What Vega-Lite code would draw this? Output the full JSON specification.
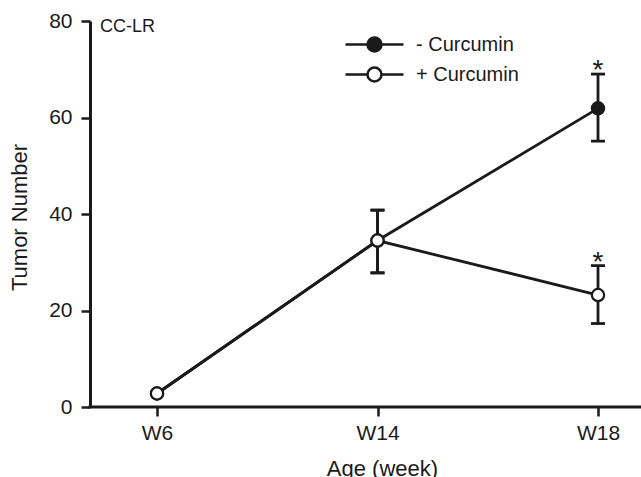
{
  "$schema": "https://vega.github.io/schema/vega-lite/v6.json",
  "width": 551,
  "height": 386,
  "autosize": {"type": "none"},
  "padding": {"left": 90, "top": 21, "right": 0, "bottom": 70},
  "background": "white",
  "title": {"text": "CC-LR", "anchor": "start", "frame": "group", "offset": -26, "dx": 10, "fontSize": 18, "fontWeight": "normal", "font": "Liberation Sans", "color": "#1a1a1a"},
  "data": {"values": [
    {"week": "W6", "group": "- Curcumin", "value": 2.8, "lower": null, "upper": null, "sig": ""},
    {"week": "W14", "group": "- Curcumin", "value": 34.5, "lower": 27.8, "upper": 40.8, "sig": ""},
    {"week": "W18", "group": "- Curcumin", "value": 61.9, "lower": 55.1, "upper": 69.0, "sig": "*"},
    {"week": "W6", "group": "+ Curcumin", "value": 2.8, "lower": null, "upper": null, "sig": ""},
    {"week": "W14", "group": "+ Curcumin", "value": 34.5, "lower": 27.8, "upper": 40.8, "sig": ""},
    {"week": "W18", "group": "+ Curcumin", "value": 23.2, "lower": 17.3, "upper": 29.3, "sig": "*"}
  ]},
  "layer": [
    {
      "data": {"values": [{}]},
      "mark": {"type": "rule", "color": "#1a1a1a", "strokeWidth": 3, "strokeCap": "square"},
      "encoding": {"y": {"datum": 0, "type": "quantitative", "title": "Tumor Number"}}
    },
    {
      "mark": {"type": "line", "color": "#1a1a1a", "strokeWidth": 2.8},
      "encoding": {
        "x": {"field": "week", "type": "ordinal", "title": "Age (week)",
              "scale": {"type": "point", "domain": ["W6", "W14", "W18"], "range": [67, 508], "padding": 0},
              "axis": {"domain": false, "labelAngle": 0, "tickSize": 9, "tickWidth": 2.5, "labelPadding": 6, "titleX": 292, "titleY": 68, "titleBaseline": "alphabetic", "titleAlign": "center", "titleFontSize": 22}},
        "y": {"field": "value", "type": "quantitative", "title": "Tumor Number",
              "scale": {"domain": [0, 80], "nice": false, "zero": false},
              "axis": {"values": [0, 20, 40, 60, 80], "domainWidth": 3, "tickSize": 9, "tickWidth": 2.5, "labelPadding": 9, "titleX": -64, "titleY": 196, "titleAlign": "center", "titleBaseline": "alphabetic", "titleFontSize": 22}},
        "detail": {"field": "group"},
        "order": {"value": null}
      }
    },
    {
      "transform": [{"filter": "isValid(datum.upper)"}],
      "mark": {"type": "rule", "color": "#1a1a1a", "strokeWidth": 2.8},
      "encoding": {
        "x": {"field": "week", "type": "ordinal", "title": "Age (week)"},
        "y": {"field": "lower", "type": "quantitative", "title": "Tumor Number"},
        "y2": {"field": "upper"}
      }
    },
    {
      "transform": [{"filter": "isValid(datum.upper)"}],
      "mark": {"type": "tick", "color": "#1a1a1a", "size": 14, "thickness": 2.8, "orient": "horizontal", "opacity": 1},
      "encoding": {
        "x": {"field": "week", "type": "ordinal", "title": "Age (week)"},
        "y": {"field": "upper", "type": "quantitative", "title": "Tumor Number"}
      }
    },
    {
      "transform": [{"filter": "isValid(datum.lower)"}],
      "mark": {"type": "tick", "color": "#1a1a1a", "size": 14, "thickness": 2.8, "orient": "horizontal", "opacity": 1},
      "encoding": {
        "x": {"field": "week", "type": "ordinal", "title": "Age (week)"},
        "y": {"field": "lower", "type": "quantitative", "title": "Tumor Number"}
      }
    },
    {
      "mark": {"type": "point", "filled": true, "size": 150, "stroke": "#1a1a1a", "strokeWidth": 2.2, "opacity": 1},
      "encoding": {
        "x": {"field": "week", "type": "ordinal", "title": "Age (week)"},
        "y": {"field": "value", "type": "quantitative", "title": "Tumor Number"},
        "fill": {"field": "group", "type": "nominal",
                 "scale": {"domain": ["- Curcumin", "+ Curcumin"], "range": ["#1a1a1a", "#ffffff"]},
                 "legend": {"title": null, "orient": "none", "legendX": 273, "legendY": 12,
                            "symbolType": "M-2.9,0H-0.7M0.7,0A0.7,0.7,0,1,1,-0.7,0A0.7,0.7,0,1,1,0.7,0ZM0.7,0H2.9",
                            "symbolSize": 400, "symbolStrokeWidth": 2.5, "symbolStrokeColor": "#1a1a1a", "symbolOpacity": 1,
                            "labelFontSize": 20, "labelFont": "Liberation Sans", "labelColor": "#1a1a1a", "labelOffset": 30,
                            "rowPadding": 5, "padding": 0}}
      }
    },
    {
      "transform": [{"filter": "datum.sig != ''"}],
      "mark": {"type": "text", "fontSize": 28, "font": "Liberation Sans", "baseline": "alphabetic", "dy": 5, "color": "#1a1a1a"},
      "encoding": {
        "x": {"field": "week", "type": "ordinal", "title": "Age (week)"},
        "y": {"field": "upper", "type": "quantitative", "title": "Tumor Number"},
        "text": {"field": "sig"}
      }
    }
  ],
  "config": {
    "view": {"stroke": null},
    "axis": {"labelFont": "Liberation Sans", "labelFontSize": 21, "labelColor": "#1a1a1a", "titleFont": "Liberation Sans", "titleFontWeight": "normal", "titleColor": "#1a1a1a", "domainColor": "#1a1a1a", "tickColor": "#1a1a1a", "grid": false}
  }
}
